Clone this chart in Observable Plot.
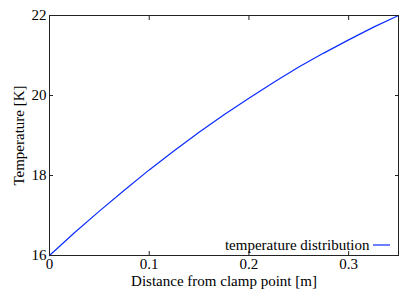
<!DOCTYPE html>
<html>
<head>
<meta charset="utf-8">
<script src="https://cdn.jsdelivr.net/npm/d3@7"></script>
<script src="https://cdn.jsdelivr.net/npm/@observablehq/plot@0.6"></script>
<style>
  html, body { margin: 0; padding: 0; background: #fff; }
</style>
</head>
<body>
<div id="chart"></div>
<script>
const distance = [0, 0.025, 0.05, 0.075, 0.1, 0.125, 0.15, 0.175, 0.2, 0.225, 0.25, 0.275, 0.3, 0.325, 0.35];
const temperature = [16.0, 16.57, 17.11, 17.63, 18.14, 18.62, 19.08, 19.52, 19.93, 20.33, 20.71, 21.06, 21.39, 21.71, 22.0];
const xTicks = [0, 0.1, 0.2, 0.3];
const yTicks = [16, 18, 20, 22];
const xLabel = "Distance from clamp point [m]";
const yLabel = "Temperature [K]";
const seriesName = "temperature distribution";

const data = distance.map((d, i) => ({x: d, y: temperature[i]}));
const lineColor = "#0a2cff";
const FONT = "'Liberation Serif'";
const fmt = d => String(d);
const blank = () => "";

const chart = Plot.plot({
  width: 415,
  height: 292,
  marginLeft: 49,
  marginRight: 17,
  marginTop: 15,
  marginBottom: 37,
  style: {color: "#000", background: "#fff", fontFamily: FONT, fontSize: "15px"},
  x: {domain: [0, 0.35]},
  y: {domain: [16, 22]},
  marks: [
    Plot.line(data, {x: "x", y: "y", stroke: lineColor, strokeWidth: 1.2}),
    // inward ticks on all four sides
    Plot.axisX(xTicks, {anchor: "bottom", tickSize: 4, dy: -4, tickFormat: blank, label: null, stroke: "#222"}),
    Plot.axisX(xTicks, {anchor: "top", tickSize: 4, dy: 4, tickFormat: blank, label: null, stroke: "#222"}),
    Plot.axisY(yTicks, {anchor: "left", tickSize: 4, dx: 4, tickFormat: blank, label: null, stroke: "#222"}),
    Plot.axisY(yTicks, {anchor: "right", tickSize: 4, dx: -4, tickFormat: blank, label: null, stroke: "#222"}),
    // tick labels
    Plot.axisX(xTicks, {anchor: "bottom", tickSize: 0, tickPadding: 3, tickFormat: fmt, label: null, fill: "#000"}),
    Plot.axisY(yTicks, {anchor: "left", tickSize: 0, tickPadding: 3, tickFormat: fmt, label: null, fill: "#000"}),
    Plot.frame({stroke: "#222", strokeWidth: 1}),
    // axis titles
    Plot.text([xLabel], {frameAnchor: "bottom", dy: 30, text: d => d, lineAnchor: "bottom", fill: "#000"}),
    Plot.text([yLabel], {frameAnchor: "left", dx: -30, rotate: -90, text: d => d, textAnchor: "middle", lineAnchor: "middle", fill: "#000"}),
    // legend text
    Plot.text([seriesName], {frameAnchor: "bottom-right", dx: -29, dy: -6, text: d => d, textAnchor: "end", lineAnchor: "bottom", fill: "#000"})
  ]
});

const svg = d3.select(chart);
svg.attr("font-family", FONT).attr("font-size", 15);
svg.selectAll("g").attr("font-family", null).attr("font-size", null);
svg.selectAll("text").style("font-family", FONT).style("font-size", "15px");

// legend swatch, positioned relative to the frame
const xr = chart.scale("x").range;
const yr = chart.scale("y").range;
svg.append("line")
  .attr("x1", xr[1] - 25).attr("x2", xr[1] - 8)
  .attr("y1", yr[0] - 10).attr("y2", yr[0] - 10)
  .attr("stroke", lineColor).attr("stroke-width", 1.2);

document.getElementById("chart").appendChild(chart);
</script>
</body>
</html>
